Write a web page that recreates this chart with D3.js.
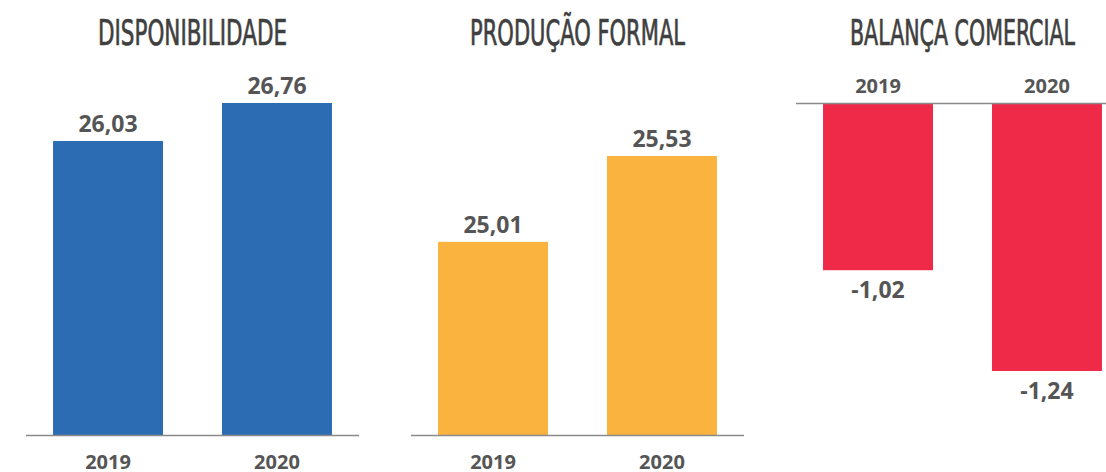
<!DOCTYPE html>
<html>
<head>
<meta charset="utf-8">
<script src="https://cdn.jsdelivr.net/npm/d3@7"></script>
<style>
  body { margin: 0; background: #fff; }
  svg { display: block; }
</style>
</head>
<body>
<script>
const width = 1106;
const height = 472;

// chart data
const years = ["2019", "2020"];
const titles = ["DISPONIBILIDADE", "PRODUÇÃO FORMAL", "BALANÇA COMERCIAL"];
const disponibilidade = [26.03, 26.76];
const producaoFormal = [25.01, 25.53];
const balancaComercial = [-1.02, -1.24];
const colors = ["#2b6cb3", "#fbb33f", "#ee2a48"];

// each panel has its own (non zero based) value axis
const panels = [
    { title: titles[0], values: disponibilidade, color: colors[0], domain: [20.38, 26.76], range: [435, 103], base: 435, titleLen: 189 },
    { title: titles[1], values: producaoFormal, color: colors[1], domain: [23.84, 25.53], range: [435, 156], base: 435, titleLen: 215 },
    { title: titles[2], values: balancaComercial, color: colors[2], domain: [-0.655, -1.24], range: [103, 371], base: 103, titleLen: 225 }
];

// pt-BR style number, plain hyphen for negatives
const fmt = v => (v < 0 ? "-" : "") + d3.format(".2f")(Math.abs(v)).replace(".", ",");

const svg = d3.create("svg")
    .attr("width", width)
    .attr("height", height)
    .attr("viewBox", [0, 0, width, height]);

const panelW = 333;
const gap = 385;

panels.forEach((p, i) => {
    const x0 = 26 + i * gap;
    const x = d3.scaleBand()
        .domain(years)
        .range([x0, x0 + panelW])
        .paddingInner(0.349)
        .paddingOuter(0.16);
    const y = d3.scaleLinear().domain(p.domain).range(p.range);
    const negative = p.values[0] < 0;

    const g = svg.append("g");

    // title
    g.append("text")
        .attr("x", x0 + panelW / 2)
        .attr("y", 45)
        .attr("text-anchor", "middle")
        .attr("font-family", "'Liberation Sans Narrow', 'DejaVu Sans Condensed', Roboto, sans-serif")
        .attr("font-stretch", "condensed")
        .attr("font-size", 35)
        .attr("fill", "#3f3f3f")
        .attr("stroke", "#3f3f3f")
        .attr("stroke-width", 0.7)
        .attr("textLength", p.titleLen)
        .attr("lengthAdjust", "spacingAndGlyphs")
        .text(p.title);

    // bars
    g.selectAll("rect")
        .data(p.values)
        .join("rect")
        .attr("x", (d, j) => x(years[j]))
        .attr("width", x.bandwidth())
        .attr("y", d => Math.min(y(d), p.base))
        .attr("height", d => Math.abs(y(d) - p.base))
        .attr("fill", p.color);

    // baseline
    g.append("line")
        .attr("x1", x0)
        .attr("x2", x0 + panelW)
        .attr("y1", p.base + 0.5)
        .attr("y2", p.base + 0.5)
        .attr("stroke", "#8a8a8a")
        .attr("stroke-width", 1.5);

    // value labels
    g.selectAll("text.value")
        .data(p.values)
        .join("text")
        .attr("class", "value")
        .attr("x", (d, j) => x(years[j]) + x.bandwidth() / 2)
        .attr("y", d => negative ? y(d) + 28 : y(d) - 9)
        .attr("text-anchor", "middle")
        .attr("font-family", "'Open Sans', sans-serif")
        .attr("font-weight", 700)
        .attr("font-size", 23)
        .attr("fill", "#555")
        .text(fmt);

    // year labels
    g.selectAll("text.year")
        .data(years)
        .join("text")
        .attr("class", "year")
        .attr("x", d => x(d) + x.bandwidth() / 2)
        .attr("y", negative ? 93 : 469)
        .attr("text-anchor", "middle")
        .attr("font-family", "'Open Sans', sans-serif")
        .attr("font-weight", 700)
        .attr("font-size", 20)
        .attr("fill", "#555")
        .text(d => d);
});

document.body.appendChild(svg.node());
</script>
</body>
</html>
